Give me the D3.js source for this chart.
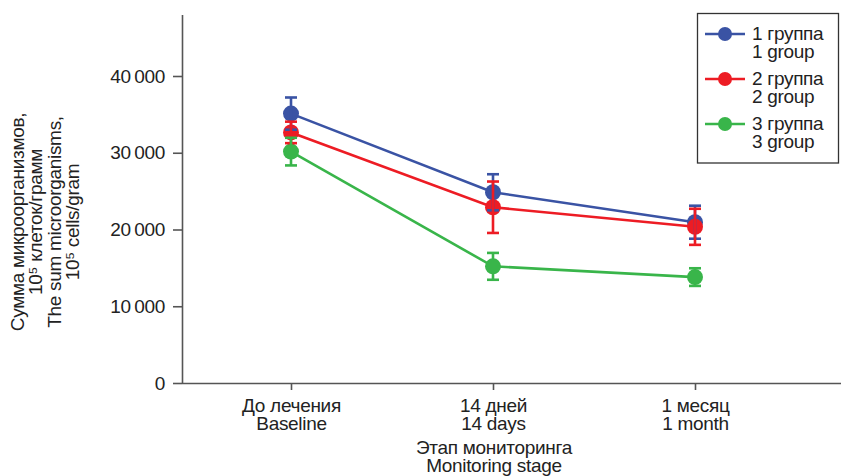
<!DOCTYPE html>
<html><head><meta charset="utf-8">
<script src="https://cdn.jsdelivr.net/npm/d3@7/dist/d3.min.js"></script>
<style>body{margin:0;background:#fff}svg{display:block}text{font-family:"Liberation Sans",Arial,sans-serif;fill:#222;letter-spacing:-0.3px}</style>
</head><body><svg id="c" width="841" height="476"></svg>
<script>
const stagesRu = ["До лечения", "14 дней", "1 месяц"];
const stagesEn = ["Baseline", "14 days", "1 month"];
const groupsRu = ["1 группа", "2 группа", "3 группа"];
const groupsEn = ["1 group", "2 group", "3 group"];
const colors = ["#3a53a4", "#ed1c24", "#39b54a"];
const mean1 = [35100, 24850, 20950];
const err1 = [2100, 2350, 2150];
const mean2 = [32650, 22900, 20350];
const err2 = [1400, 3350, 2350];
const mean3 = [30150, 15200, 13800];
const err3 = [1800, 1750, 1150];
const yTicks = [0, 10000, 20000, 30000, 40000];
const yLabel = ["Сумма микроорганизмов,", "10⁵ клеток/грамм", "The sum microorganisms,", "10⁵ cells/gram"];
const xTitle = ["Этап мониторинга", "Monitoring stage"];

const FS = 19;
const means = [mean1, mean2, mean3];
const errs = [err1, err2, err3];
const svg = d3.select("#c");
const x = d3.scalePoint().domain(stagesEn).range([291, 695]);
const y = d3.scaleLinear().domain([0, 48000]).range([383, 14.6]);
const loc = d3.formatLocale({decimal: ",", thousands: "\u2009", grouping: [3], currency: ["", ""]});
const fmt = loc.format(",");

const axisColor = "#555";
const gy = svg.append("g").attr("transform", "translate(182,0)")
  .call(d3.axisLeft(y).tickValues(yTicks).tickFormat(fmt).tickSize(9).tickSizeOuter(0).tickPadding(8));
const gx = svg.append("g").attr("transform", "translate(0,383)")
  .call(d3.axisBottom(x).tickSize(7).tickSizeOuter(0).tickFormat(() => ""));
gx.select(".domain").attr("d", "M182,0.5H841");
[gx, gy].forEach(g => {
  g.selectAll("path,line").attr("stroke", axisColor).attr("stroke-width", 1.6);
  g.selectAll("text").attr("font-size", FS).attr("fill", "#222").attr("font-family", '"Liberation Sans",Arial,sans-serif');
});
gx.selectAll(".tick").each(function(d, i) {
  const t = d3.select(this).append("text").attr("text-anchor", "middle").attr("font-size", FS).attr("fill", "#222");
  t.append("tspan").attr("x", 0).attr("y", 29).text(stagesRu[i]);
  t.append("tspan").attr("x", 0).attr("y", 46.5).text(stagesEn[i]);
});
const xt = svg.append("text").attr("text-anchor", "middle").attr("font-size", FS);
xTitle.forEach((s, i) => xt.append("tspan").attr("x", 494).attr("y", 454 + i * 18).text(s));

const yl = svg.append("text").attr("text-anchor", "middle").attr("font-size", FS)
  .attr("transform", "translate(0,222) rotate(-90)");
yLabel.forEach((s, i) => yl.append("tspan").attr("x", 0).attr("y", 24 + i * 18.3).text(s));

const line = d3.line().x((d, i) => x(stagesEn[i])).y(d => y(d));
means.forEach((m, k) => {
  svg.append("path").datum(m).attr("d", line).attr("fill", "none").attr("stroke", colors[k]).attr("stroke-width", 2.6);
});
means.forEach((m, k) => {
  svg.append("g").selectAll("circle").data(m).join("circle")
    .attr("cx", (d, i) => x(stagesEn[i])).attr("cy", d => y(d)).attr("r", 8).attr("fill", colors[k]);
});
means.forEach((m, k) => {
  const g = svg.append("g").attr("stroke", colors[k]).attr("stroke-width", 2.6);
  m.forEach((v, i) => {
    const cx = x(stagesEn[i]), e = errs[k][i];
    g.append("line").attr("x1", cx).attr("x2", cx).attr("y1", y(v - e)).attr("y2", y(v + e));
    [v - e, v + e].forEach(w => g.append("line").attr("x1", cx - 6).attr("x2", cx + 6).attr("y1", y(w)).attr("y2", y(w)));
  });
});

// legend
const lg = svg.append("g");
lg.append("rect").attr("x", 697.5).attr("y", 13.5).attr("width", 141).attr("height", 149.5)
  .attr("fill", "#fff").attr("stroke", "#333").attr("stroke-width", 1.3);
groupsRu.forEach((s, k) => {
  const cy = 34 + k * 45;
  lg.append("line").attr("x1", 705).attr("x2", 745).attr("y1", cy).attr("y2", cy).attr("stroke", colors[k]).attr("stroke-width", 2.6);
  lg.append("circle").attr("cx", 725).attr("cy", cy).attr("r", 7).attr("fill", colors[k]);
  const t = lg.append("text").attr("font-size", FS);
  t.append("tspan").attr("x", 752).attr("y", cy + 6).text(s);
  t.append("tspan").attr("x", 752).attr("y", cy + 24).text(groupsEn[k]);
});
</script></body></html>
